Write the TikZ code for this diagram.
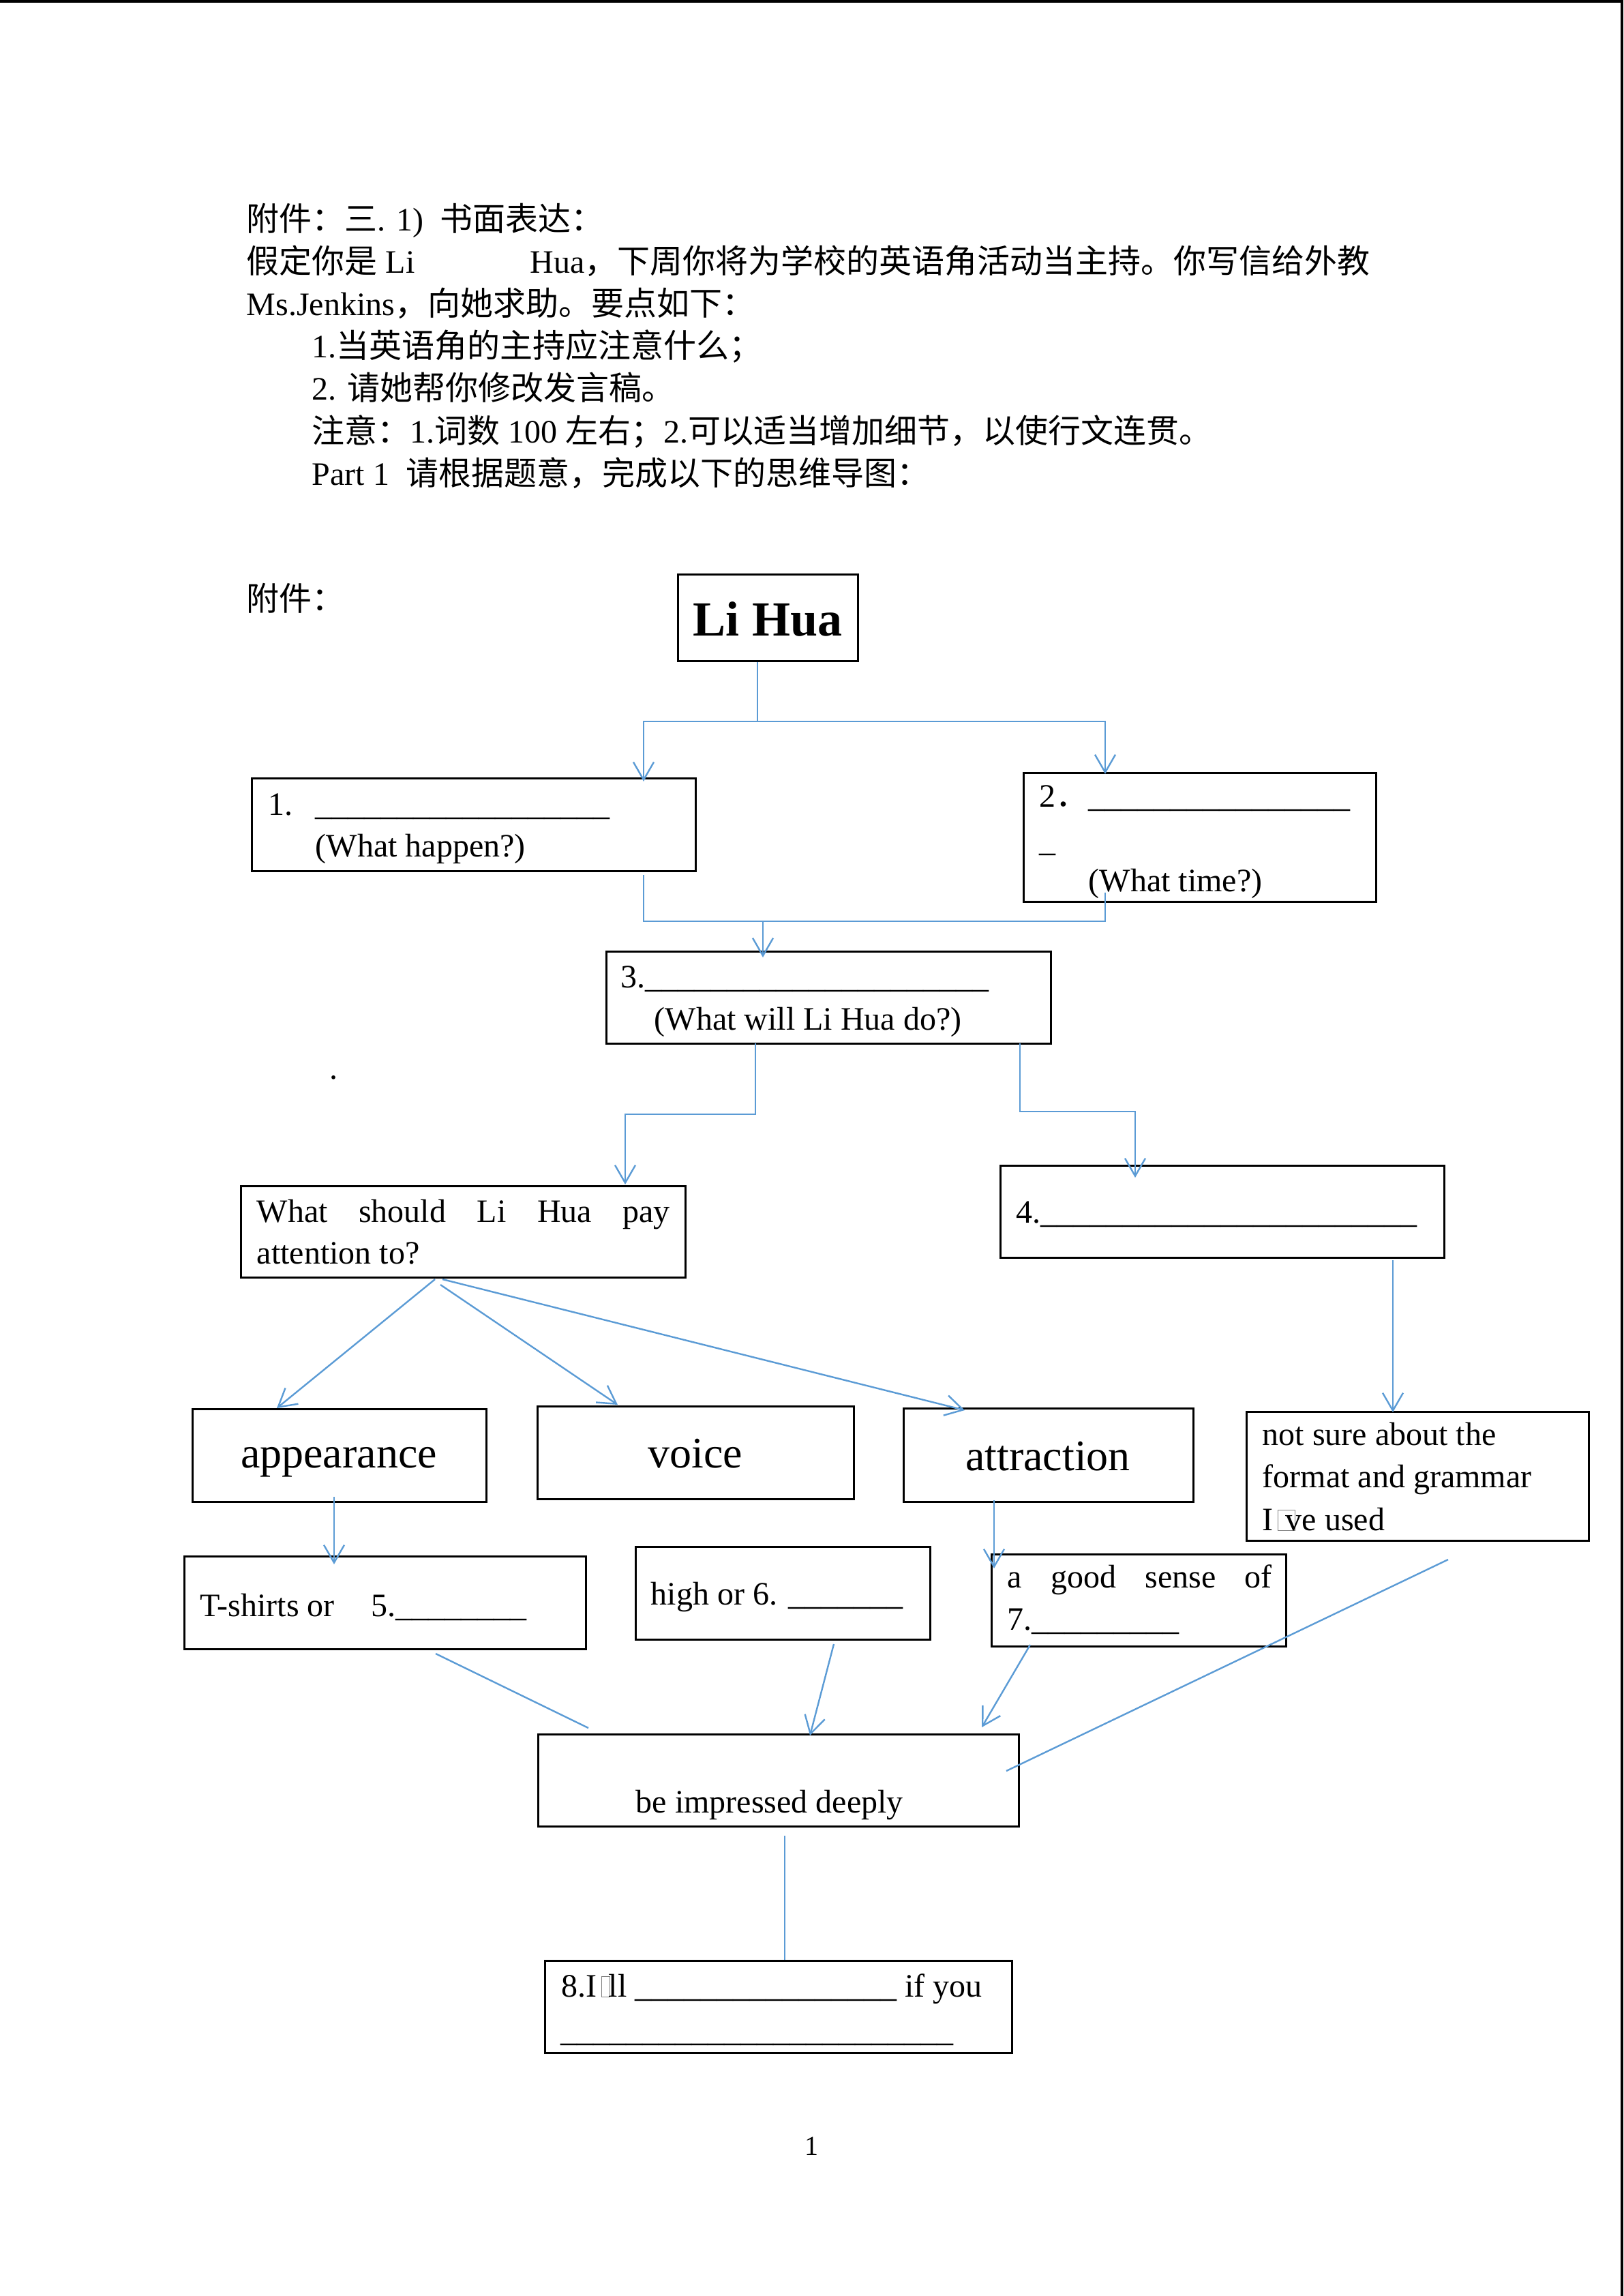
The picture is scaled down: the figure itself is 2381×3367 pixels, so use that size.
\documentclass[tikz,border=0pt]{standalone}
\usepackage{fontspec}
\setmainfont{Liberation Serif}
\newfontfamily\cjk{Noto Sans CJK SC}
\usetikzlibrary{arrows.meta,fit}
\definecolor{linkblue}{HTML}{5B9BD5}
\newcount\uscnt
\newcommand\us[1]{\uscnt=#1\relax\loop\ifnum\uscnt>0 \_\advance\uscnt by -1\relax\repeat}
\newcommand\gbox[3]{\kern#1\rlap{\textcolor{gray}{\fboxsep=0pt\fboxrule=0.3pt\fbox{\rule{0pt}{7.2pt}\hspace{#2}}}}\kern#3\relax}
\begin{document}
\begin{tikzpicture}[x=0.25pt,y=-0.25pt,
  txt/.style={anchor=base west,inner sep=0pt,font=\fontsize{12}{14}\selectfont},
  ctxt/.style={txt,anchor=base},
  bigtxt/.style={ctxt,font=\fontsize{16}{18}\selectfont},
  box/.style={draw,line width=0.75pt,inner sep=0pt},
  wire/.style={draw=linkblue,line width=0.6pt},
  conn/.style={wire,-{Straight Barb[length=6.5pt,width=7.5pt]}}]
\useasboundingbox (0,0) rectangle (2381,3367);
% page edges
\fill[black] (0,0) rectangle (2381,4);
\fill[black] (2377,0) rectangle (2381,3367);

% header text
\node[txt] (h1) at (361,338) {{\cjk 附件：三}. 1)\ \ {\cjk 书面表达：}};
\node[txt] (h2) at (361,400) {\makebox[104pt][l]{{\cjk 假定你是} Li}Hua{\cjk ，下周你将为学校的英语角活动当主持。你写信给外教}};
\node[txt] (h3) at (361,462) {Ms.Jenkins{\cjk ，向她求助。要点如下：}};
\node[txt] (h4) at (457,524) {1.{\cjk 当英语角的主持应注意什么；}};
\node[txt] (h5) at (457,586) {2. {\cjk 请她帮你修改发言稿。}};
\node[txt] (h6) at (457,649) {{\cjk 注意：}1.{\cjk 词数} 100 {\cjk 左右；}2.{\cjk 可以适当增加细节，以使行文连贯。}};
\node[txt] (h7) at (457,711) {Part 1\ \ {\cjk 请根据题意，完成以下的思维导图：}};
\node[txt] (att) at (361,895) {{\cjk 附件：}};

% boxes
\node[box,fit={(994,842) (1258,969)}] (lihua) {};
\node[box,fit={(369,1141) (1020,1277)}] (b1) {};
\node[box,fit={(1501,1133) (2018,1322)}] (b2) {};
\node[box,fit={(889,1395) (1541,1530)}] (b3) {};
\node[box,fit={(353,1739) (1005,1873)}] (ws) {};
\node[box,fit={(1467,1709) (2118,1844)}] (b4) {};
\node[box,fit={(282,2066) (713,2202)}] (app) {};
\node[box,fit={(788,2062) (1252,2198)}] (voice) {};
\node[box,fit={(1325,2065) (1750,2202)}] (attr) {};
\node[box,fit={(1828,2070) (2330,2259)}] (ns) {};
\node[box,fit={(270,2282) (859,2418)}] (ts) {};
\node[box,fit={(932,2268) (1364,2404)}] (hi) {};
\node[box,fit={(1454,2279) (1886,2414)}] (gs) {};
\node[box,fit={(789,2543) (1494,2678)}] (bi) {};
\node[box,fit={(799,2875) (1484,3010)}] (b8) {};

% box texts
\node[ctxt,font=\bfseries\fontsize{18}{20}\selectfont] (lihuaT) at (1126,932) {Li Hua};
\node[txt] (b1a) at (393,1195) {1.\hspace{8.25pt}\us{18}};
\node[txt] (b1b) at (462,1256) {(What happen?)};
\node[txt] (b2a) at (1524,1183) {2{\cjk ．}\us{16}};
\node[txt] (b2b) at (1524,1248) {\_};
\node[txt] (b2c) at (1596,1307) {(What time?)};
\node[txt] (b3a) at (910,1448) {3.\us{21}};
\node[txt] (b3b) at (959,1510) {(What will Li Hua do?)};
\node[txt] (dot) at (483,1582) {.};
\node[txt] (wsa) at (376,1792) {\makebox[151.5pt][s]{What should Li Hua pay}};
\node[txt] (wsb) at (376,1853) {attention to?};
\node[txt] (b4a) at (1490,1793) {4.\us{23}};
\node[bigtxt] (appT) at (497,2152) {appearance};
\node[bigtxt] (voiceT) at (1020,2152) {voice};
\node[bigtxt] (attrT) at (1537,2156) {attraction};
\node[txt] (nsa) at (1851,2119) {not sure about the};
\node[txt] (nsb) at (1851,2181) {format and grammar};
\node[txt] (nsc) at (1851,2244) {I\gbox{1.5pt}{6pt}{3pt}ve used};
\node[txt] (tsT) at (293,2370) {T-shirts or\hspace{13.4pt}5.\us{8}};
\node[txt] (hiT) at (954,2353) {high or 6. \us{7}};
\node[txt] (gsa) at (1477,2328) {\makebox[97pt][s]{a good sense of}};
\node[txt] (gsb) at (1477,2390) {7.\us{9}};
\node[txt] (biT) at (932,2658) {be impressed deeply};
\node[txt] (b8a) at (823,2928) {8.I\gbox{1.5pt}{2.75pt}{2.75pt}ll \us{16} if you};
\node[txt] (b8b) at (822,2993) {\us{24}};
\node[ctxt,font=\fontsize{10}{12}\selectfont] (pg) at (1190,3160) {1};

% connector points
\coordinate (j0) at (1111,1058);
\coordinate (t1) at (944,1146);
\coordinate (t2) at (1621,1135);
\coordinate (s1) at (944,1283);
\coordinate (s2) at (1621,1309);
\coordinate (m1) at (944,1351);
\coordinate (m2) at (1621,1351);
\coordinate (m3) at (1119,1351);
\coordinate (t3) at (1119,1404);
\coordinate (c1) at (1108,1530);
\coordinate (c2) at (1108,1634);
\coordinate (c3) at (917,1634);
\coordinate (t4) at (917,1737);
\coordinate (d1) at (1496,1530);
\coordinate (d2) at (1496,1630);
\coordinate (d3) at (1665,1630);
\coordinate (t5) at (1665,1727);
\coordinate (w1) at (638,1876);
\coordinate (w2) at (646,1884);
\coordinate (w3) at (649,1876);
\coordinate (ta) at (406,2065);
\coordinate (tv) at (906,2060);
\coordinate (tt) at (1415,2068);
\coordinate (n1) at (2043,1848);
\coordinate (tn) at (2043,2071);
\coordinate (a1) at (490,2195);
\coordinate (ta2) at (490,2294);
\coordinate (r1) at (1458,2200);
\coordinate (tr2) at (1458,2300);
\coordinate (e1) at (639,2425);
\coordinate (e1t) at (863,2534);
\coordinate (e2) at (1223,2411);
\coordinate (e2t) at (1188,2545);
\coordinate (e3) at (1511,2412);
\coordinate (e3t) at (1440,2533);
\coordinate (e4) at (2124,2287);
\coordinate (e4t) at (1476,2597);
\coordinate (f1) at (1151,2692);

% connectors
\draw[wire] (lihua.south -| j0) -- (j0);
\draw[conn] (j0) -| (t1);
\draw[conn] (j0) -| (t2);
\draw[wire] (s1) -- (m1) -- (m2) -- (s2);
\draw[conn] (m3) -- (t3);
\draw[conn] (c1) -- (c2) -- (c3) -- (t4);
\draw[conn] (d1) -- (d2) -- (d3) -- (t5);
\draw[conn] (w1) -- (ta);
\draw[conn] (w2) -- (tv);
\draw[conn] (w3) -- (tt);
\draw[conn] (n1) -- (tn);
\draw[conn] (a1) -- (ta2);
\draw[conn] (r1) -- (tr2);
\draw[wire] (e1) -- (e1t);
\draw[conn] (e2) -- (e2t);
\draw[conn] (e3) -- (e3t);
\draw[wire] (e4) -- (e4t);
\draw[wire] (f1) -- (b8.north -| f1);
\end{tikzpicture}
\end{document}
